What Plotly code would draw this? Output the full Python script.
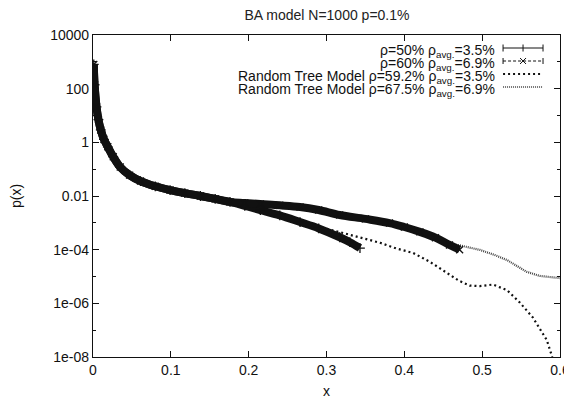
import plotly.graph_objects as go

# ---------------- data ----------------
# BA model, rho=50%  (rho_avg = 3.5%)
x_r50 = [0.001, 0.002, 0.0045, 0.007, 0.01, 0.014, 0.019, 0.026, 0.035, 0.047, 0.061,
         0.08, 0.099, 0.118, 0.138, 0.157, 0.176, 0.195, 0.215, 0.24, 0.266, 0.29,
         0.317, 0.33, 0.343]
p_r50 = [8e2, 1.4e2, 2.1e1, 7.0, 2.9, 1.3, 6.8e-1, 2.9e-1, 1.2e-1, 6.0e-2, 3.6e-2,
         2.3e-2, 1.66e-2, 1.28e-2, 1.0e-2, 7.8e-3, 6.0e-3, 4.3e-3, 3.0e-3, 1.9e-3, 1.07e-3,
         6.2e-4, 2.9e-4, 1.9e-4, 1.15e-4]

# BA model, rho=60%  (rho_avg = 6.9%)
x_r60 = [0.001, 0.002, 0.0045, 0.007, 0.01, 0.014, 0.019, 0.026, 0.035, 0.047, 0.061,
         0.08, 0.099, 0.118, 0.138, 0.157, 0.176, 0.195, 0.215, 0.24, 0.266, 0.29,
         0.317, 0.35, 0.381, 0.40, 0.42, 0.44, 0.458, 0.471]
p_r60 = [8e2, 1.4e2, 2.1e1, 7.0, 2.9, 1.3, 6.8e-1, 2.9e-1, 1.2e-1, 6.0e-2, 3.6e-2,
         2.3e-2, 1.66e-2, 1.28e-2, 1.0e-2, 7.8e-3, 6.0e-3, 5.5e-3, 5.0e-3, 4.5e-3, 3.9e-3,
         3.0e-3, 1.95e-3, 1.4e-3, 9.8e-4, 7.0e-4, 4.6e-4, 2.8e-4, 1.5e-4, 1.0e-4]

# Random Tree Model rho=59.2% (rho_avg = 3.5%)
x_t59 = [0.001, 0.002, 0.0045, 0.01, 0.019, 0.035, 0.061, 0.099, 0.138, 0.176, 0.215,
         0.266, 0.317, 0.343, 0.369, 0.39, 0.411, 0.433, 0.454, 0.47, 0.484, 0.497,
         0.514, 0.532, 0.548, 0.565, 0.583, 0.590]
p_t59 = [8e2, 1.4e2, 2.1e1, 2.9, 6.8e-1, 1.2e-1, 3.6e-2, 1.66e-2, 1.0e-2, 6.0e-3, 3.0e-3,
         1.07e-3, 4.5e-4, 2.8e-4, 1.8e-4, 1.1e-4, 7.6e-5, 3.5e-5, 1.35e-5, 7.0e-6, 4.6e-6,
         4.4e-6, 5.0e-6, 3.1e-6, 1.1e-6, 3.0e-7, 4.3e-8, 1.0e-8]

# Random Tree Model rho=67.5% (rho_avg = 6.9%)
x_t67 = [0.001, 0.002, 0.0045, 0.01, 0.019, 0.035, 0.061, 0.099, 0.138, 0.176, 0.215,
         0.266, 0.317, 0.381, 0.42, 0.458, 0.471, 0.497, 0.515, 0.532, 0.557, 0.574, 0.6]
p_t67 = [8e2, 1.4e2, 2.1e1, 2.9, 6.8e-1, 1.2e-1, 3.6e-2, 1.66e-2, 1.0e-2, 6.0e-3, 5.0e-3,
         3.9e-3, 1.95e-3, 9.8e-4, 4.6e-4, 1.6e-4, 1.45e-4, 9.8e-5, 6.5e-5, 4.1e-5, 1.5e-5,
         1.05e-5, 8.7e-6]

x_ticks = [0, 0.1, 0.2, 0.3, 0.4, 0.5, 0.6]
x_ticktext = ["0", "0.1", "0.2", "0.3", "0.4", "0.5", "0.6"]
y_ticks = [1e4, 1e2, 1, 1e-2, 1e-4, 1e-6, 1e-8]
y_ticktext = ["10000", "100", "1", "0.01", "1e-04", "1e-06", "1e-08"]
y_minor = [1e3, 1e1, 1e-1, 1e-3, 1e-5, 1e-7]

legend_labels = [
    "ρ=50% ρ<sub>avg.</sub>=3.5%",
    "ρ=60% ρ<sub>avg.</sub>=6.9%",
    "Random Tree Model ρ=59.2% ρ<sub>avg.</sub>=3.5%",
    "Random Tree Model ρ=67.5% ρ<sub>avg.</sub>=6.9%",
]

# ---------------- figure ----------------
OFF = 8  # page body margin in the browser
W, H = 572 - OFF, 399 - OFF
# plot area in reference-page pixels
L_REF, R_REF, T_REF, B_REF = 92.5, 560, 35, 357
ML = L_REF - OFF
MR = W - (R_REF - OFF)
MT = T_REF - OFF
MB = H - (B_REF - OFF)
PW, PH = W - ML - MR, H - MT - MB
FONT = "Liberation Sans, Arial, Helvetica, sans-serif"


def px(xp):  # reference-page x pixel -> paper coordinate
    return (xp - L_REF) / PW


def py(yp):  # reference-page y pixel -> paper coordinate
    return (B_REF - yp) / PH


fig = go.Figure()

fig.add_trace(go.Scatter(x=x_t59, y=p_t59, mode="lines", name=legend_labels[2],
                         line=dict(color="#111", width=2.2, dash="2px,3px"),
                         showlegend=False))
fig.add_trace(go.Scatter(x=x_t67, y=p_t67, mode="lines", name=legend_labels[3],
                         line=dict(color="#444", width=2.2, dash="1px,1px"),
                         showlegend=False))
fig.add_trace(go.Scatter(x=x_r50, y=p_r50, mode="lines+markers", name=legend_labels[0],
                         line=dict(color="#111", width=8, shape="spline"),
                         marker=dict(symbol="cross-thin", size=7, color="#111",
                                     line=dict(width=1.3, color="#111")),
                         showlegend=False))
fig.add_trace(go.Scatter(x=x_r60, y=p_r60, mode="lines+markers", name=legend_labels[1],
                         line=dict(color="#111", width=8, shape="spline"),
                         marker=dict(symbol="x-thin", size=7, color="#111",
                                     line=dict(width=1.3, color="#111")),
                         showlegend=False))

# ---- gnuplot-style key (text left, sample right) ----
rows_y = [48, 61, 74, 87]
text_shift = 3  # subscripts push the text box centre upwards
text_right = 497
s0, s1 = 503, 543
shapes = []
annotations = []
for i, lab in enumerate(legend_labels):
    annotations.append(dict(xref="paper", yref="paper", x=px(text_right),
                            y=py(rows_y[i] + text_shift),
                            xanchor="right", yanchor="middle", showarrow=False, text=lab,
                            font=dict(family=FONT, size=14, color="#111")))
# row 1: solid with error-bar ends and '+'
y1 = rows_y[0]
shapes.append(dict(type="line", xref="paper", yref="paper", x0=px(s0), x1=px(s1),
                   y0=py(y1), y1=py(y1), line=dict(color="#111", width=1)))
for xx in (s0, (s0 + s1) / 2, s1):
    shapes.append(dict(type="line", xref="paper", yref="paper", x0=px(xx), x1=px(xx),
                       y0=py(y1 - 3.5), y1=py(y1 + 3.5), line=dict(color="#111", width=1)))
# row 2: dashed with error-bar ends and 'x'
y2 = rows_y[1]
shapes.append(dict(type="line", xref="paper", yref="paper", x0=px(s0), x1=px(s1),
                   y0=py(y2), y1=py(y2), line=dict(color="#111", width=1, dash="3px,2px")))
for xx in (s0, s1):
    shapes.append(dict(type="line", xref="paper", yref="paper", x0=px(xx), x1=px(xx),
                       y0=py(y2 - 3), y1=py(y2 + 3), line=dict(color="#111", width=1)))
cx = (s0 + s1) / 2
shapes.append(dict(type="line", xref="paper", yref="paper", x0=px(cx - 3), x1=px(cx + 3),
                   y0=py(y2 - 3), y1=py(y2 + 3), line=dict(color="#111", width=1)))
shapes.append(dict(type="line", xref="paper", yref="paper", x0=px(cx - 3), x1=px(cx + 3),
                   y0=py(y2 + 3), y1=py(y2 - 3), line=dict(color="#111", width=1)))
# row 3: coarse dots
y3 = rows_y[2]
shapes.append(dict(type="line", xref="paper", yref="paper", x0=px(s0), x1=px(s1),
                   y0=py(y3), y1=py(y3), line=dict(color="#111", width=2, dash="2px,3px")))
# row 4: fine dots
y4 = rows_y[3]
shapes.append(dict(type="line", xref="paper", yref="paper", x0=px(s0), x1=px(s1),
                   y0=py(y4), y1=py(y4), line=dict(color="#444", width=1.6, dash="1px,1px")))

axis_common = dict(showline=True, linecolor="#111", linewidth=1.2, mirror="ticks",
                   ticks="inside", ticklen=6, tickwidth=1, tickcolor="#111",
                   showgrid=False, zeroline=False, automargin=False,
                   ticklabeloverflow="allow",
                   tickfont=dict(family=FONT, size=14, color="#111"))

fig.update_layout(
    width=W, height=H,
    margin=dict(l=ML, r=MR, t=MT, b=MB),
    paper_bgcolor="white", plot_bgcolor="white",
    title=dict(text="BA model N=1000 p=0.1%", x=(327 - OFF) / W, xanchor="center",
               y=1 - (15 - OFF) / H, yanchor="middle",
               font=dict(family=FONT, size=14, color="#222")),
    xaxis=dict(range=[0, 0.6], tickvals=x_ticks, ticktext=x_ticktext,
               title=dict(text="x", standoff=10, font=dict(family=FONT, size=14, color="#111")),
               **axis_common),
    yaxis=dict(type="log", range=[-8, 4], tickvals=y_ticks, ticktext=y_ticktext,
               minor=dict(tickvals=y_minor, ticks="inside", ticklen=3, tickcolor="#111"),
               title=dict(text="p(x)", standoff=34, font=dict(family=FONT, size=14, color="#111")),
               **axis_common),
    shapes=shapes,
    annotations=annotations,
    showlegend=False,
)

fig.write_html("out.html")
